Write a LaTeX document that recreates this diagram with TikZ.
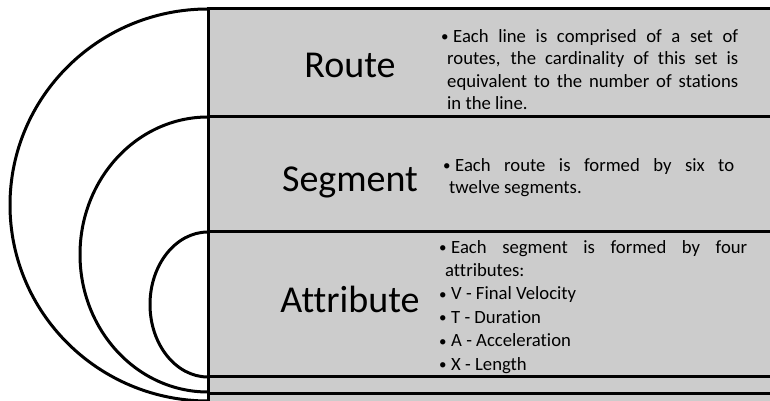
\documentclass[tikz,border=0pt]{standalone}
\usepackage{fontspec}
\setmainfont{Carlito}[Ligatures=NoCommon]
\definecolor{panelgray}{HTML}{CCCCCC}
\newcommand{\smallbullet}{\raisebox{0.5pt}{\fontsize{15}{15}\selectfont\textbullet}}
\newcommand{\bulletpar}[1]{\tolerance=10000\relax\hbadness=10000\relax\hangindent=6pt\relax\hangafter=1\relax\noindent\makebox[12pt][l]{\smallbullet}#1\par}
\begin{document}
\begin{tikzpicture}[x=1pt,y=1pt,
  rule/.style={line width=3pt, draw=black},
  title/.style={font=\fontsize{38}{42}\selectfont, anchor=base, inner sep=0pt},
  desc/.style={anchor=north west, inner sep=0pt, align=justify,
    font=\fontsize{18.7}{22.6}\selectfont}]
\useasboundingbox (0,0) rectangle (770,401);
% grey panel
\fill[panelgray] (208,0) rectangle (770,392);
% nested half ellipses
\draw[rule] (208,392) arc[start angle=90, end angle=270, x radius=198pt, y radius=196pt];
\draw[rule] (208,284) arc[start angle=90, end angle=270, x radius=128pt, y radius=137.5pt];
\draw[rule] (208,169) arc[start angle=90, end angle=270, x radius=58pt, y radius=72.5pt];
% horizontal rules
\draw[rule] (206.5,392) -- (770,392);
\draw[rule] (206.5,284) -- (770,284);
\draw[rule] (206.5,169) -- (770,169);
\draw[rule] (206.5,24) -- (770,24);
\draw[rule] (206.5,7) -- (770,7);
% vertical rule
\draw[rule] (208,393.5) -- (208,-2);
% titles
\node[title] (route) at (350,323) {Route};
\node[title] (segment) at (350,209) {Segment};
\node[title] (attribute) at (350,88) {Attribute};
% descriptions
\node[desc, text width=297pt] (routetxt) at (441,372) {%
  \bulletpar{Each line is comprised of a set of\linebreak routes, the cardinality of this set is\linebreak equivalent to the number of stations\linebreak in the line.}};
\node[desc, text width=291pt] (segmenttxt) at (443,243) {%
  \bulletpar{Each route is formed by six to\linebreak twelve segments.}};
\node[desc, text width=308pt, font=\fontsize{18.7}{23.4}\selectfont] (attributetxt) at (439,161) {%
  \bulletpar{Each segment is formed by four\linebreak attributes:}
  \bulletpar{V - Final Velocity}
  \bulletpar{T - Duration}
  \bulletpar{A - Acceleration}
  \bulletpar{X - Length}};
\end{tikzpicture}
\end{document}
